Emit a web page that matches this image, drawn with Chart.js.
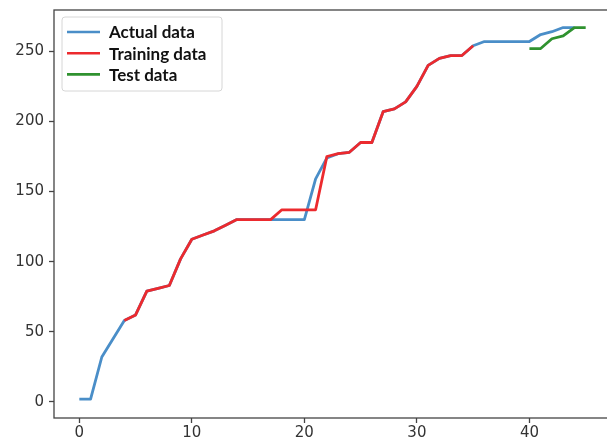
<!DOCTYPE html>
<html>
<head>
<meta charset="utf-8">
<script src="https://cdn.jsdelivr.net/npm/chart.js@4/dist/chart.umd.min.js"></script>
<style>
  html, body { margin: 0; padding: 0; background: #fff; }
  #wrap { width: 607px; height: 441px; overflow: hidden; position: relative; }
  #box { width: 620px; height: 441px; }
</style>
</head>
<body>
<div id="wrap"><div id="box"><canvas id="chart"></canvas></div></div>
<script>
// values
const actualData = [2, 2, 32, 45, 58, 62, 79, 81, 83, 102, 116, 119, 122, 126, 130, 130, 130, 130, 130, 130,
  130, 159, 174, 177, 178, 185, 185, 207, 209, 214, 225, 240, 245, 247, 247, 254, 257, 257, 257, 257,
  257, 262, 264, 267, 267]
const actualStart = 0
const trainingData = [58, 62, 79, 81, 83, 102, 116, 119, 122, 126, 130, 130, 130, 130, 137, 137, 137, 137,
  175, 177, 178, 185, 185, 207, 209, 214, 225, 240, 245, 247, 247, 254]
const trainingStart = 4
const testData = [252, 252, 259, 261, 267, 267]
const testStart = 40

const seriesLabels = ['Actual data', 'Training data', 'Test data']
const xTicks = [0, 10, 20, 30, 40]
const yTicks = [0, 50, 100, 150, 200, 250]

const toPoints = (arr, start) => arr.map((v, i) => ({ x: start + i, y: v }))

// frame around the plot + matplotlib style legend
const framePlugin = {
  id: 'frame',
  afterDraw(chart) {
    const { ctx, chartArea: a } = chart
    ctx.save()
    ctx.strokeStyle = '#444'
    ctx.lineWidth = 1.3
    ctx.strokeRect(a.left, a.top, a.right - a.left, a.bottom - a.top)

    // legend box
    const lx = 62, ly = 17, lw = 160, lh = 74
    ctx.beginPath()
    ctx.roundRect(lx, ly, lw, lh, 3)
    ctx.fillStyle = 'rgba(255,255,255,0.85)'
    ctx.fill()
    ctx.strokeStyle = '#d6d6d6'
    ctx.lineWidth = 1
    ctx.stroke()

    ctx.font = 'bold 17px Lato, "Open Sans", sans-serif'
    ctx.textBaseline = 'middle'
    chart.data.datasets.forEach((ds, i) => {
      const y = 32 + i * 21.2
      ctx.strokeStyle = ds.borderColor
      ctx.lineWidth = 2.6
      ctx.beginPath()
      ctx.moveTo(67, y)
      ctx.lineTo(100, y)
      ctx.stroke()
      ctx.fillStyle = '#111'
      ctx.fillText(ds.label, 109, y + 1)
    })
    ctx.restore()
  }
}

const tickFont = { family: '"DejaVu Sans", sans-serif', size: 15 }

new Chart(document.getElementById('chart'), {
  type: 'line',
  data: {
    datasets: [
      {
        label: seriesLabels[0],
        data: toPoints(actualData, actualStart),
        borderColor: '#4a8ec8',
        order: 3,
      },
      {
        label: seriesLabels[1],
        data: toPoints(trainingData, trainingStart),
        borderColor: '#ec2a2e',
        order: 2,
      },
      {
        label: seriesLabels[2],
        data: toPoints(testData, testStart),
        borderColor: '#2f922f',
        order: 1,
      },
    ],
  },
  options: {
    responsive: true,
    maintainAspectRatio: false,
    animation: false,
    events: [],
    layout: { padding: { top: 10, right: 9, left: 0, bottom: 0 } },
    elements: {
      point: { radius: 0 },
      line: { borderWidth: 2.8, tension: 0, fill: false, borderJoinStyle: 'round' },
    },
    plugins: {
      legend: { display: false },
      tooltip: { enabled: false },
    },
    scales: {
      x: {
        type: 'linear',
        min: -2.25,
        max: 47.25,
        afterBuildTicks: (s) => { s.ticks = xTicks.map((v) => ({ value: v })) },
        afterFit: (s) => {
          s.height = 23
          s.paddingLeft = 0; s.paddingRight = 0
        },
        grid: { drawOnChartArea: false, drawTicks: true, tickLength: 5, tickWidth: 1.3, tickColor: '#444' },
        border: { display: false },
        ticks: { font: tickFont, color: '#333', padding: 1, maxRotation: 0, autoSkip: false },
      },
      y: {
        type: 'linear',
        min: -11.5,
        max: 279.5,
        afterBuildTicks: (s) => { s.ticks = yTicks.map((v) => ({ value: v })) },
        afterFit: (s) => {
          s.width = 54
          s.paddingTop = 0; s.paddingBottom = 0
        },
        grid: { drawOnChartArea: false, drawTicks: true, tickLength: 5, tickWidth: 1.3, tickColor: '#444' },
        border: { display: false },
        ticks: { font: tickFont, color: '#333', padding: 5, autoSkip: false },
      },
    },
  },
  plugins: [framePlugin],
})
</script>
</body>
</html>
